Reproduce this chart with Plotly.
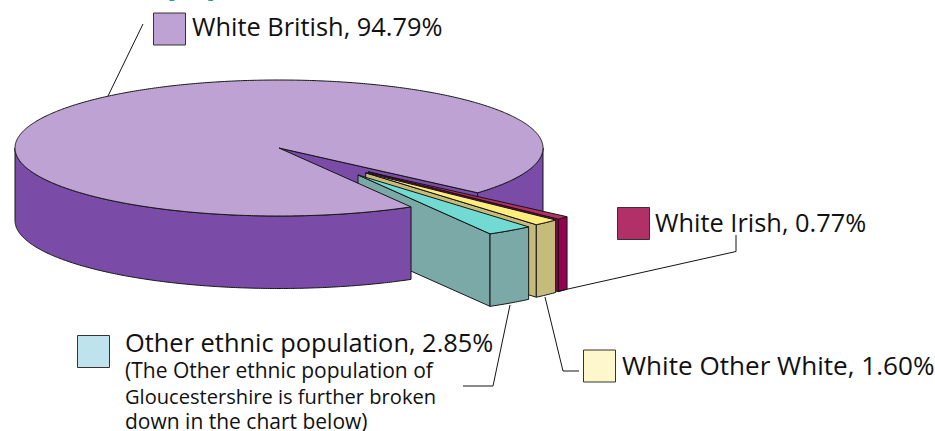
import numpy as np
import plotly.graph_objects as go

# Ethnic make-up of the county population, in percent
categories = ["White British", "White Irish", "White Other White", "Other ethnic population"]
shares = [94.79, 0.77, 1.60, 2.85]

TOP_COLOURS = ["#BEA2D3", "#B23068", "#FFEE7E", "#70DAD3"]
SIDE_COLOURS = ["#7B4BA8", "#960050", "#C5BC7C", "#7BA9A8"]
SWATCH_COLOURS = ["#BEA2D3", "#B23068", "#FDF7CB", "#BEE3EC"]
EXPLODE_X = [0.0, 0.46, 0.48, 0.52]
EXPLODE_Y = [0.0, 0.52, 0.50, 0.485]

# Projection of the disc on the page: centre, radii and thickness in pixels
CX, CY, RX, RY, DEPTH = 279, 148, 264, 68, 72.5
START = 41.2
OUTLINE = "#151515"
FONT = "Open Sans"

fig = go.Figure()


def point(angle, off=(0, 0), drop=0):
    a = np.radians(angle)
    return CX + off[0] + RX * np.cos(a), CY + off[1] + RY * np.sin(a) + drop


def arc(a0, a1, off=(0, 0), drop=0):
    angles = np.linspace(a0, a1, max(int(abs(a1 - a0) * 2), 2) + 1)
    a = np.radians(angles)
    return CX + off[0] + RX * np.cos(a), CY + off[1] + RY * np.sin(a) + drop


def polygon(xs, ys, colour):
    fig.add_trace(go.Scatter(
        x=list(xs) + [xs[0]], y=list(ys) + [ys[0]], mode="lines", fill="toself",
        fillcolor=colour, line=dict(color=OUTLINE, width=1, simplify=False),
        hoverinfo="skip", showlegend=False,
    ))


def outer_wall(a0, a1, colour, off=(0, 0)):
    x0, y0 = arc(a0, a1, off)
    x1, y1 = arc(a0, a1, off, DEPTH)
    polygon(np.r_[x0, x1[::-1]], np.r_[y0, y1[::-1]], colour)


def radial_wall(angle, colour, off=(0, 0)):
    tx, ty = CX + off[0], CY + off[1]
    rx, ry = point(angle, off)
    polygon([tx, rx, rx, tx], [ty, ry, ry + DEPTH, ty + DEPTH], colour)


def top_face(a0, a1, colour, off=(0, 0)):
    x, y = arc(a0, a1, off)
    polygon(np.r_[CX + off[0], x], np.r_[CY + off[1], y], colour)


# Slice boundaries: the small slices sit in the gap left by the large one
sweep = [s * 3.6 for s in shares]
main_start = START + sum(sweep[1:])
edges = np.cumsum([START] + sweep[1:])

# Back of the large slice, seen through the gap
radial_wall(START, SIDE_COLOURS[0])
outer_wall(0, START, SIDE_COLOURS[0])

# Exploded slices, back to front
for i in (1, 2, 3):
    a0, a1 = edges[i - 1], edges[i]
    mid = np.radians((a0 + a1) / 2)
    off = (EXPLODE_X[i] * RX * np.cos(mid), EXPLODE_Y[i] * RY * np.sin(mid))
    radial_wall(a1, SIDE_COLOURS[i], off)
    outer_wall(a0, a1, SIDE_COLOURS[i], off)
    top_face(a0, a1, TOP_COLOURS[i], off)

# Front wall and top of the large slice
outer_wall(main_start, 180, SIDE_COLOURS[0])
top_face(main_start, START + 360, TOP_COLOURS[0])

# Leader lines
leaders = [
    ([108, 143], [96, 24]),
    ([559, 736, 736], [291, 251.5, 235]),
    ([545, 563, 579], [297, 371, 371]),
    ([510, 493, 463], [305, 386, 386]),
]
for lx, ly in leaders:
    fig.add_trace(go.Scatter(x=lx, y=ly, mode="lines", line=dict(color=OUTLINE, width=1),
                             hoverinfo="skip", showlegend=False))

# Legend swatches
swatch_x = [169.5, 633.5, 599.5, 93.5]
swatch_y = [29, 223.5, 366, 351.5]
fig.add_trace(go.Scatter(
    x=swatch_x, y=swatch_y, mode="markers", hoverinfo="skip", showlegend=False,
    marker=dict(symbol="square", size=32, color=SWATCH_COLOURS, line=dict(color="#333333", width=1)),
))

label_x = [190, 653, 620, 123]
label_y = [26, 222, 365, 342]
label_size = [25.4, 25.4, 26.1, 25.4]
annotations = []
for name, share, lx, ly, size in zip(categories, shares, label_x, label_y, label_size):
    annotations.append(dict(
        x=lx, y=ly, xref="x", yref="y", xanchor="left", yanchor="middle", showarrow=False,
        text=f"{name}, {share:.2f}%", font=dict(family=FONT, size=size, color="#111111"),
    ))
note_lines = ["(The Other ethnic population of", "Gloucestershire is further broken", "down in the chart below)"]
note_size = [21, 20.1, 21]
for line, ly, size in zip(note_lines, [370, 396, 421], note_size):
    annotations.append(dict(
        x=123, y=ly, xref="x", yref="y", xanchor="left", yanchor="middle", showarrow=False,
        text=line, font=dict(family=FONT, size=size, color="#111111"),
    ))
# Heading, sitting mostly above the top of the page
annotations.append(dict(
    x=165 / 935, y=1 + 18 / 431, xref="paper", yref="paper", xanchor="left", yanchor="middle",
    showarrow=False, text="<b>population,</b>", font=dict(family=FONT, size=31, color="#1FA07F"),
))

fig.update_layout(
    width=935, height=431, margin=dict(l=0, r=0, t=0, b=0, pad=0),
    paper_bgcolor="white", plot_bgcolor="white", annotations=annotations, showlegend=False,
    xaxis=dict(range=[0, 935], visible=False, fixedrange=True),
    yaxis=dict(range=[431, 0], visible=False, fixedrange=True),
)
fig.write_html("out.html", config={"displayModeBar": False})
